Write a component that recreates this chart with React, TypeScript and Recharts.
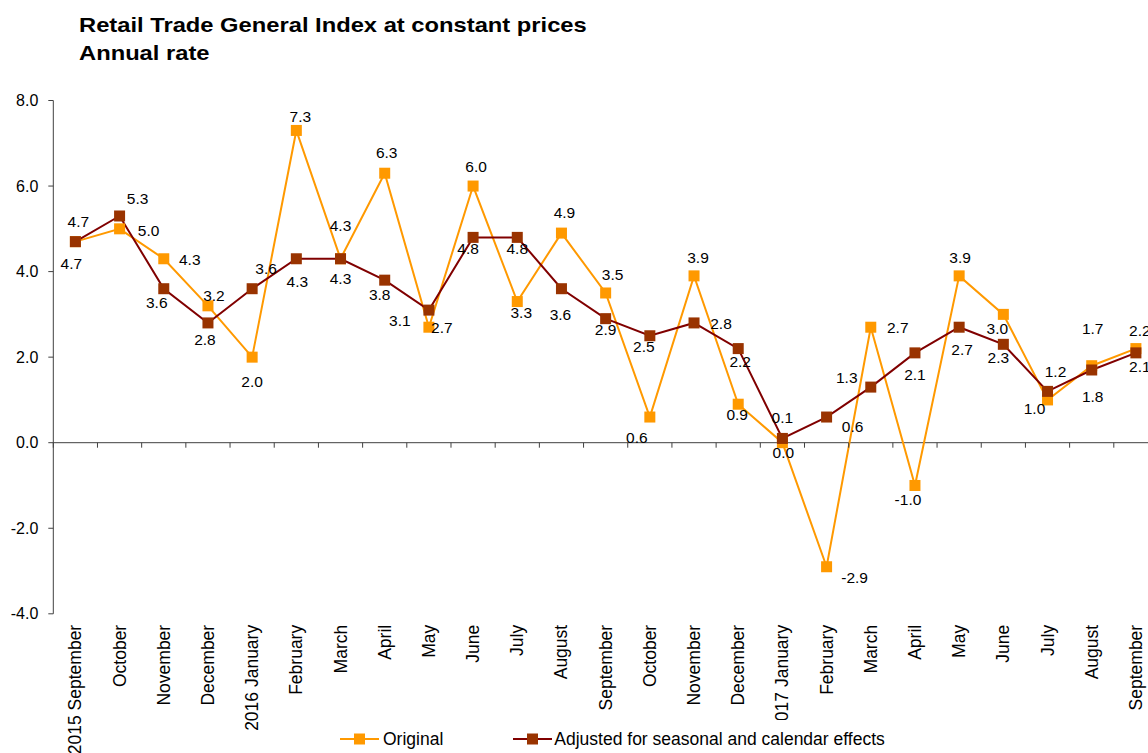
import React from "react"
import { LineChart, Line, XAxis, YAxis, ReferenceLine, LabelList, Legend } from "recharts"

const months = [
  "2015 September", "October", "November", "December", "2016 January", "February", "March", "April",
  "May", "June", "July", "August", "September", "October", "November", "December",
  "2017 January", "February", "March", "April", "May", "June", "July", "August", "September",
]

const original = [4.7, 5.0, 4.3, 3.2, 2.0, 7.3, 4.3, 6.3, 2.7, 6.0, 3.3, 4.9, 3.5, 0.6, 3.9, 0.9, 0.0, -2.9, 2.7, -1.0, 3.9, 3.0, 1.0, 1.8, 2.2]
const adjusted = [4.7, 5.3, 3.6, 2.8, 3.6, 4.3, 4.3, 3.8, 3.1, 4.8, 4.8, 3.6, 2.9, 2.5, 2.8, 2.2, 0.1, 0.6, 1.3, 2.1, 2.7, 2.3, 1.2, 1.7, 2.1]

const yTicks = [-4, -2, 0, 2, 4, 6, 8]

// label placement (dx, dy from the marker), per point
const originalLabelPos = [
  [-4, 22], [29, 2], [26, 1], [6, -10], [0, 24], [4, -14], [0, -33], [2, -21], [13, 0], [3, -20],
  [4, 11], [3, -21], [7, -18], [-13, 20], [4, -18], [-1, 10], [1, 10], [28, 11], [27, 0], [-7, 14],
  [1, -18], [-6, 14], [-13, 9], [1, 31], [4, -18],
]
const adjustedLabelPos = [
  [3, -20], [18, -17], [-7, 14], [-3, 17], [14, -20], [1, 23], [0, 20], [-5, 14], [-29, 10], [-5, 11],
  [0, 11], [-1, 26], [0, 11], [-6, 11], [27, 1], [2, 13], [0, -21], [26, 9], [-24, -10], [0, 22],
  [3, 22], [-5, 13], [8, -20], [1, -41], [4, 14],
]

const data = months.map((m, i) => ({ idx: i, month: m, original: original[i], adjusted: adjusted[i] }))

const FONT = "'Liberation Sans', Arial, sans-serif"
const ORANGE = "#FF9900"
const DARK = "#800000"
const DARK_MARK = "#993300"
const AXIS = "#404040"

const TOP = 100.5
const PLOT_H = 513.3
const PLOT_W = 1105
const BAND = PLOT_W / 25
const ZERO_Y = TOP + (8 / 12) * PLOT_H
const BOTTOM = TOP + PLOT_H

const square = (color: string) => (props: any) => {
  const { cx, cy, index } = props
  if (cx == null || cy == null) return <g key={index} />
  return <rect key={index} x={cx - 5.5} y={cy - 5.5} width={11} height={11} fill={color} />
}

const valueLabel = (pos: number[][]) => (props: any) => {
  const { index, value } = props
  const x = props.x ?? props.viewBox?.x
  const y = props.y ?? props.viewBox?.y
  if (x == null || y == null) return null
  const [dx, dy] = pos[index] || [0, 0]
  return (
    <text x={x + dx} y={y + dy} textAnchor="middle" dominantBaseline="central" fontSize={15.5} fontFamily={FONT} fill="#000">
      {Number(value).toFixed(1)}
    </text>
  )
}

const MonthTick = (props: any) => {
  const { x, payload } = props
  const ty = BOTTOM + 11
  return (
    <g>
      <line x1={x - BAND / 2} y1={ZERO_Y} x2={x - BAND / 2} y2={ZERO_Y + 5} stroke={AXIS} />
      <text
        x={x}
        y={ty}
        transform={`rotate(-90, ${x}, ${ty})`}
        textAnchor="end"
        dominantBaseline="central"
        fontSize={17.5}
        fontFamily={FONT}
        fill="#000"
      >
        {months[payload.value]}
      </text>
    </g>
  )
}

const LegendBox = () => (
  <div
    style={{
      display: "flex",
      alignItems: "center",
      fontFamily: FONT,
      fontSize: 17.5,
      color: "#000",
      background: "#fff",
      height: 33,
      paddingTop: 5,
      boxSizing: "border-box",
    }}
  >
    <svg width={39} height={14} style={{ marginLeft: 20 }}>
      <line x1={0} y1={7} x2={39} y2={7} stroke={ORANGE} strokeWidth={2} />
      <rect x={14} y={1.5} width={11} height={11} fill={ORANGE} />
    </svg>
    <span style={{ marginLeft: 4 }}>Original</span>
    <svg width={39} height={14} style={{ marginLeft: 70 }}>
      <line x1={0} y1={7} x2={39} y2={7} stroke={DARK} strokeWidth={2} />
      <rect x={14} y={1.5} width={11} height={11} fill={DARK_MARK} />
    </svg>
    <span style={{ marginLeft: 2 }}>Adjusted for seasonal and calendar effects</span>
  </div>
)

export default function App() {
  return (
    <div style={{ position: "fixed", left: 0, top: 0, width: 1148, height: 753, overflow: "hidden", background: "#fff" }}>
      <div
        style={{
          position: "absolute",
          left: 79,
          top: 11,
          fontFamily: FONT,
          fontWeight: "bold",
          fontSize: 21,
          lineHeight: "28px",
          color: "#000",
          whiteSpace: "nowrap",
          transform: "scaleX(1.13)",
          transformOrigin: "left top",
        }}
      >
        Retail Trade General Index at constant prices
        <br />
        Annual rate
      </div>
      <div style={{ position: "absolute", left: 0, top: 0 }}>
        <LineChart width={1160} height={753} data={data} margin={{ top: TOP, right: 2, bottom: 0, left: 0.3 }}>
          <XAxis
            dataKey="idx"
            type="number"
            domain={[-0.5, 24.5]}
            ticks={months.map((_, i) => i)}
            interval={0}
            height={753 - BOTTOM}
            axisLine={false}
            tickLine={false}
            tick={<MonthTick />}
          />
          <YAxis
            type="number"
            domain={[-4, 8]}
            ticks={yTicks}
            interval={0}
            width={53}
            stroke={AXIS}
            tickSize={5}
            tickMargin={10}
            tick={{ fill: "#000", fontSize: 16, fontFamily: FONT }}
            tickFormatter={(v: number) => v.toFixed(1)}
          />
          <ReferenceLine y={0} stroke={AXIS} />
          <Line
            dataKey="original"
            name="Original"
            stroke={ORANGE}
            strokeWidth={2}
            dot={square(ORANGE)}
            activeDot={false}
            isAnimationActive={false}
          >
            <LabelList dataKey="original" content={valueLabel(originalLabelPos)} />
          </Line>
          <Line
            dataKey="adjusted"
            name="Adjusted for seasonal and calendar effects"
            stroke={DARK}
            strokeWidth={2}
            dot={square(DARK_MARK)}
            activeDot={false}
            isAnimationActive={false}
          >
            <LabelList dataKey="adjusted" content={valueLabel(adjustedLabelPos)} />
          </Line>
          <Legend
            verticalAlign="middle"
            align="center"
            content={<LegendBox />}
            wrapperStyle={{ top: 720, left: 320, width: 600, height: 33, background: "#fff" }}
          />
        </LineChart>
      </div>
    </div>
  )
}
